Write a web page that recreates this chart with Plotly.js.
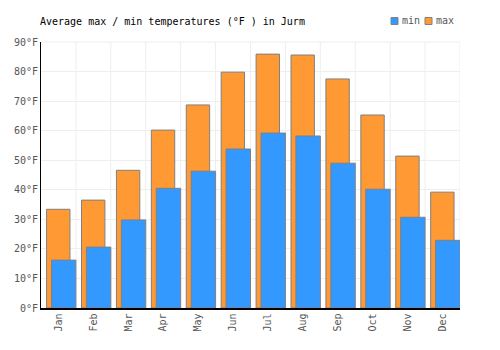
<!DOCTYPE html>
<html><head><meta charset="utf-8">
<script src="https://cdn.plot.ly/plotly-3.0.1.min.js"></script>
<style>html,body{margin:0;padding:0;background:#fff}#c{width:500px;height:350px}</style>
</head><body><div id="c"></div>
<script>
const months = ["Jan","Feb","Mar","Apr","May","Jun","Jul","Aug","Sep","Oct","Nov","Dec"];
const maxTemps = [33.4, 36.5, 46.6, 60.2, 68.7, 79.8, 85.9, 85.6, 77.5, 65.3, 51.4, 39.2];
const minTemps = [16.2, 20.6, 29.8, 40.5, 46.3, 53.8, 59.2, 58.2, 49.0, 40.2, 30.7, 22.9];
const yTicks = [0,10,20,30,40,50,60,70,80,90];
const seriesNames = ["min","max"];
const seriesColors = ["#3399ff","#ff9933"];

const font = "'DejaVu Sans Mono', monospace";
const L = 41, R = 460, T = 42, B = 308;
const px = x => (x - L) / (R - L);
const py = y => (B - y) / (B - T);

const traces = [
  {type:'bar', name:'max', x:months, y:maxTemps, offset:-0.34, width:0.67,
   marker:{color:seriesColors[1], line:{color:'#808080', width:1}}, hoverinfo:'none'},
  {type:'bar', name:'min', x:months, y:minTemps, offset:-0.2, width:0.7,
   marker:{color:seriesColors[0], line:{color:'#808080', width:1}}, hoverinfo:'none'}
];

const legendX = [391, 425];
const shapes = months.map((m,i)=>({type:'line', xref:'x', yref:'paper', x0:i+0.5, x1:i+0.5, y0:0, y1:1, line:{color:'#eeeeee', width:1}, layer:'below'}))
  .concat([{type:'line', xref:'paper', yref:'paper', x0:0, x1:1, y0:1, y1:1, line:{color:'#eeeeee', width:1}, layer:'below'}])
  .concat(seriesNames.map((n,i)=>({type:'rect', xref:'paper', yref:'paper',
     x0:px(legendX[i]), x1:px(legendX[i]+7), y0:py(24.5), y1:py(17.5),
     fillcolor:seriesColors[i], line:{color:'#808080', width:1}})));
const annotations = seriesNames.map((n,i)=>({xref:'paper', yref:'paper', x:px(legendX[i]+9), y:py(21),
     xanchor:'left', yanchor:'middle', text:n, showarrow:false, font:{family:font, size:10, color:'#555'}}));

const layout = {
  width:500, height:350,
  margin:{l:L, r:500-R, t:T, b:350-B},
  barmode:'overlay',
  paper_bgcolor:'#fff', plot_bgcolor:'#fff',
  font:{family:font, size:10, color:'#555'},
  title:{text:'Average max / min temperatures (°F ) in Jurm', x:40/500, xanchor:'left', y:1-21/350, yanchor:'middle',
         font:{family:font, size:10, color:'#000'}},
  showlegend:false,
  xaxis:{type:'category', tickangle:-90, showgrid:false, showline:true, linecolor:'#000', linewidth:1.5,
         ticks:'', ticklen:0, tickfont:{family:font, size:10, color:'#555'}, range:[-0.5,11.5], fixedrange:true},
  yaxis:{range:[0,90], tickvals:yTicks, ticktext:yTicks.map(v=>v+'°F'), showline:true, linecolor:'#000', linewidth:1,
         gridcolor:'#eeeeee', gridwidth:1, zeroline:false, ticks:'', tickfont:{family:font, size:10, color:'#555'}, fixedrange:true},
  shapes: shapes,
  annotations: annotations
};
Plotly.newPlot('c', traces, layout, {displayModeBar:false, staticPlot:true});
</script></body></html>
